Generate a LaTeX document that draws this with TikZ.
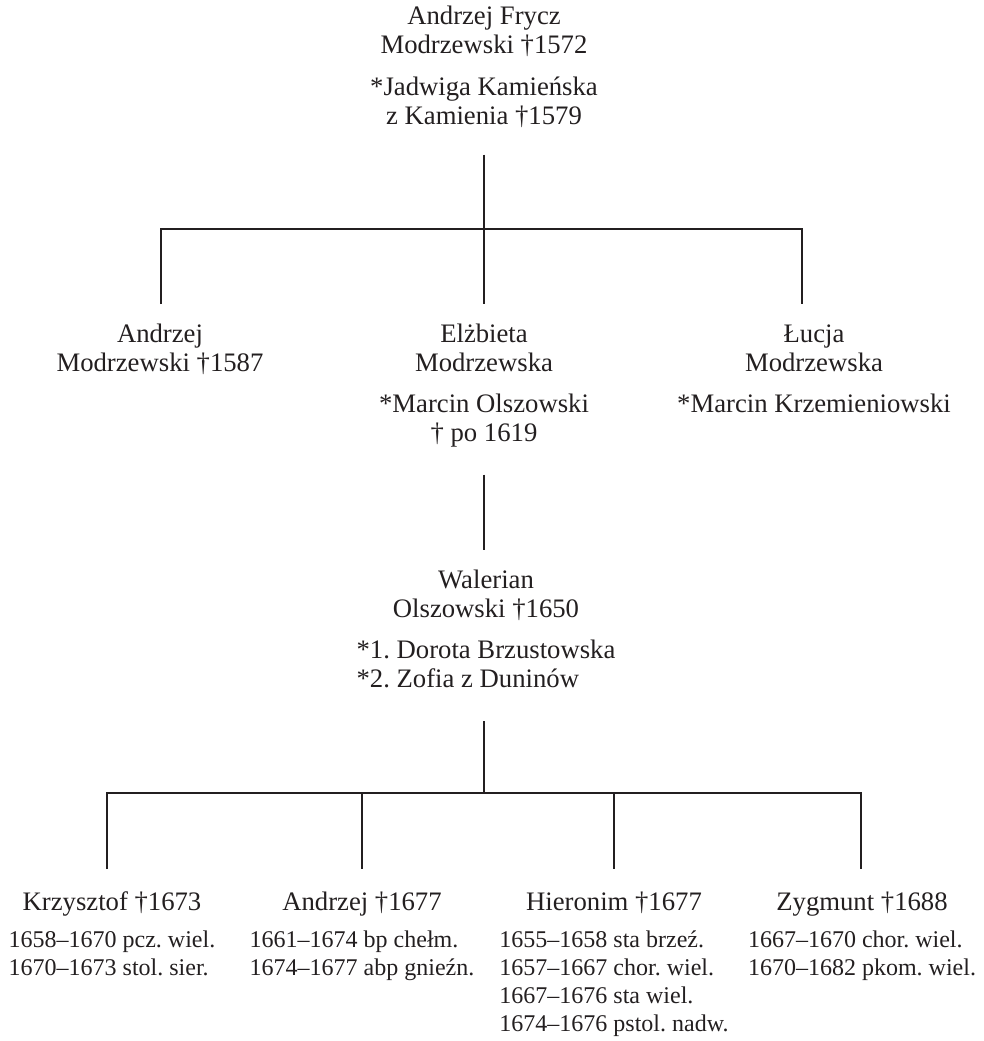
\documentclass[tikz,border=0pt]{standalone}
\usepackage{fontspec}
\setmainfont{Liberation Serif}
\frenchspacing
\definecolor{ink}{HTML}{231F20}
\newcommand\nm[1]{\begin{tabular}[t]{@{}c@{}}#1\end{tabular}}
\newcommand\lb[1]{\begin{tabular}[t]{@{}l@{}}#1\end{tabular}}
\newcommand\dt[1]{{\fontsize{24}{28}\selectfont\begin{tabular}[t]{@{}l@{}}#1\end{tabular}}}
\begin{document}
\begin{tikzpicture}[x=1pt,y=-1pt,
  every node/.style={inner sep=0pt, outer sep=0pt, anchor=base, text=ink,
    font=\fontsize{26.7}{29}\selectfont},
  link/.style={draw=ink, line width=2pt}]
\useasboundingbox (0,0) rectangle (984,1041);

% generation 1
\node (top) at (484,25) {\nm{Andrzej Frycz\\Modrzewski †1572\\[13pt]*Jadwiga Kamieńska\\z Kamienia †1579}};

% generation 2
\node (c1) at (160,342) {\nm{Andrzej\\Modrzewski †1587}};
\node (c2) at (484,342) {\nm{Elżbieta\\Modrzewska\\[12pt]*Marcin Olszowski\\† po 1619}};
\node (c3) at (814,342) {\nm{Łucja\\Modrzewska\\[12pt]*Marcin Krzemieniowski}};

% generation 3
\node (w) at (486,588) {\nm{Walerian\\Olszowski †1650\\[12pt]\lb{*1. Dorota Brzustowska\\{}*2. Zofia z Duninów}}};

% generation 4
\node (k1) at (112,910) {\nm{Krzysztof †1673\\[8pt]\dt{1658–1670 pcz. wiel.\\1670–1673 stol. sier.}}};
\node (k2) at (362,910) {\nm{Andrzej †1677\\[8pt]\dt{1661–1674 bp chełm.\\1674–1677 abp gnieźn.}}};
\node (k3) at (614,910) {\nm{Hieronim †1677\\[8pt]\dt{1655–1658 sta brzeź.\\1657–1667 chor. wiel.\\1667–1676 sta wiel.\\1674–1676 pstol. nadw.}}};
\node (k4) at (862,910) {\nm{Zygmunt †1688\\[8pt]\dt{1667–1670 chor. wiel.\\1670–1682 pkom. wiel.}}};

% junctions
\coordinate (bar1) at (484,229);
\coordinate (bar2) at (484,793);

% connectors generation 1 -> 2
\draw[link, shorten <=21pt] (top.south) -- (bar1);
\draw[link, shorten <=17.7pt, shorten >=17.7pt]
  ([xshift=1pt]c1.north) |- ([xshift=-12pt]c3.north |- bar1) -- ([xshift=-12pt]c3.north);
\draw[link, shorten >=17.7pt] (bar1) -- (c2.north);

% connector generation 2 -> 3
\draw[link, shorten <=25pt, shorten >=17.7pt] (c2.south) -- (c2.south |- w.north);

% connectors generation 3 -> 4
\draw[link, shorten <=25.3pt] (bar2 |- w.south) -- (bar2);
\draw[link, shorten <=20.7pt, shorten >=20.7pt]
  ([xshift=-5pt]k1.north) |- ([xshift=-1pt]k4.north |- bar2) -- ([xshift=-1pt]k4.north);
\draw[link, shorten >=20.7pt] (k2.north |- bar2) -- (k2.north);
\draw[link, shorten >=20.7pt] (k3.north |- bar2) -- (k3.north);
\end{tikzpicture}
\end{document}
